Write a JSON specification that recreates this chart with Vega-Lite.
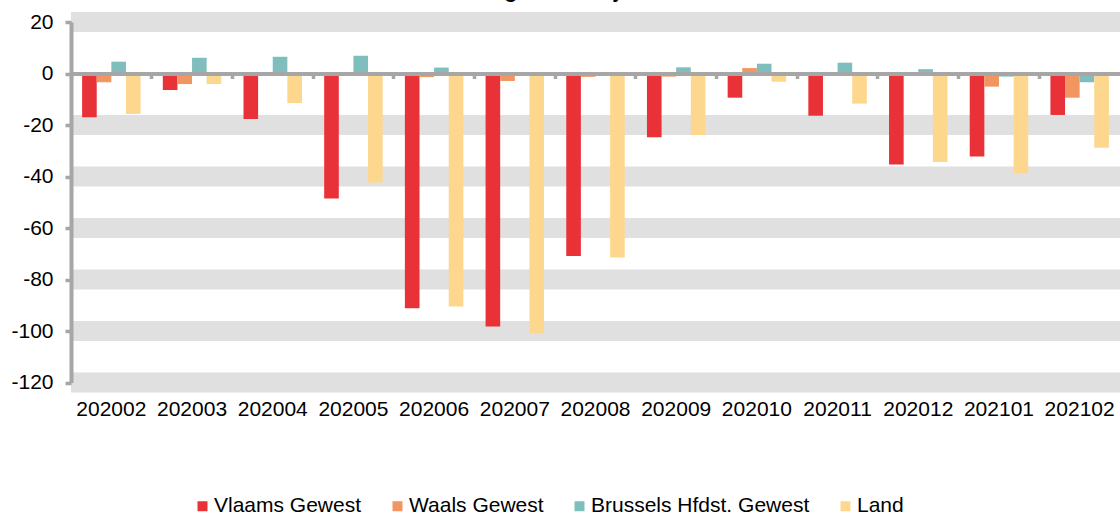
{
  "$schema": "https://vega.github.io/schema/vega-lite/v6.json",
  "width": 1049,
  "height": 360.5,
  "autosize": {"type": "none"},
  "padding": {"left": 71, "top": 22, "right": 0, "bottom": 132.5},
  "background": "white",
  "title": {"text": "Verandering t.o.v. het jaar ervoor", "anchor": "start", "frame": "group", "dx": 325, "baseline": "alphabetic", "offset": -7.5, "fontSize": 21, "font": "Liberation Sans", "fontWeight": "bold", "color": "black"},
  "config": {"view": {"stroke": null}, "font": "Liberation Sans"},
  "layer": [
    {
      "data": {"values": [{"value": 20}, {"value": -20}, {"value": -40}, {"value": -60}, {"value": -80}, {"value": -100}, {"value": -120}]},
      "mark": {"type": "rule", "color": "#E0E0E0", "strokeWidth": 20},
      "encoding": {
        "y": {"field": "value", "type": "quantitative", "scale": {"domain": [-120, 20], "nice": false, "zero": false},
          "axis": {"values": [20, 0, -20, -40, -60, -80, -100, -120], "labelExpr": "'' + datum.value", "title": null, "grid": false, "domainColor": "#A6A6A6", "domainWidth": 4, "tickColor": "#A6A6A6", "tickWidth": 3.5, "tickSize": 6, "labelFontSize": 21, "labelColor": "black", "labelPadding": 12, "labelFont": "Liberation Sans", "zindex": 1}}
      }
    },
    {
      "data": {"values": [
        {"month": "202002", "region": "Vlaams Gewest", "value": -17.0},
        {"month": "202002", "region": "Waals Gewest", "value": -3.4},
        {"month": "202002", "region": "Brussels Hfdst. Gewest", "value": 4.6},
        {"month": "202002", "region": "Land", "value": -15.7},
        {"month": "202003", "region": "Vlaams Gewest", "value": -6.4},
        {"month": "202003", "region": "Waals Gewest", "value": -4.1},
        {"month": "202003", "region": "Brussels Hfdst. Gewest", "value": 6.1},
        {"month": "202003", "region": "Land", "value": -4.1},
        {"month": "202004", "region": "Vlaams Gewest", "value": -17.7},
        {"month": "202004", "region": "Waals Gewest", "value": -0.3},
        {"month": "202004", "region": "Brussels Hfdst. Gewest", "value": 6.5},
        {"month": "202004", "region": "Land", "value": -11.5},
        {"month": "202005", "region": "Vlaams Gewest", "value": -48.5},
        {"month": "202005", "region": "Waals Gewest", "value": -0.5},
        {"month": "202005", "region": "Brussels Hfdst. Gewest", "value": 6.9},
        {"month": "202005", "region": "Land", "value": -42.3},
        {"month": "202006", "region": "Vlaams Gewest", "value": -91.2},
        {"month": "202006", "region": "Waals Gewest", "value": -1.4},
        {"month": "202006", "region": "Brussels Hfdst. Gewest", "value": 2.3},
        {"month": "202006", "region": "Land", "value": -90.5},
        {"month": "202007", "region": "Vlaams Gewest", "value": -98.3},
        {"month": "202007", "region": "Waals Gewest", "value": -2.9},
        {"month": "202007", "region": "Brussels Hfdst. Gewest", "value": 0.3},
        {"month": "202007", "region": "Land", "value": -100.9},
        {"month": "202008", "region": "Vlaams Gewest", "value": -70.9},
        {"month": "202008", "region": "Waals Gewest", "value": -1.3},
        {"month": "202008", "region": "Brussels Hfdst. Gewest", "value": 0.2},
        {"month": "202008", "region": "Land", "value": -71.5},
        {"month": "202009", "region": "Vlaams Gewest", "value": -24.8},
        {"month": "202009", "region": "Waals Gewest", "value": -1.2},
        {"month": "202009", "region": "Brussels Hfdst. Gewest", "value": 2.4},
        {"month": "202009", "region": "Land", "value": -23.9},
        {"month": "202010", "region": "Vlaams Gewest", "value": -9.4},
        {"month": "202010", "region": "Waals Gewest", "value": 2.1},
        {"month": "202010", "region": "Brussels Hfdst. Gewest", "value": 3.8},
        {"month": "202010", "region": "Land", "value": -3.2},
        {"month": "202011", "region": "Vlaams Gewest", "value": -16.4},
        {"month": "202011", "region": "Waals Gewest", "value": 0.1},
        {"month": "202011", "region": "Brussels Hfdst. Gewest", "value": 4.2},
        {"month": "202011", "region": "Land", "value": -11.7},
        {"month": "202012", "region": "Vlaams Gewest", "value": -35.3},
        {"month": "202012", "region": "Waals Gewest", "value": -0.6},
        {"month": "202012", "region": "Brussels Hfdst. Gewest", "value": 1.7},
        {"month": "202012", "region": "Land", "value": -34.4},
        {"month": "202101", "region": "Vlaams Gewest", "value": -32.2},
        {"month": "202101", "region": "Waals Gewest", "value": -5.1},
        {"month": "202101", "region": "Brussels Hfdst. Gewest", "value": -1.2},
        {"month": "202101", "region": "Land", "value": -38.6},
        {"month": "202102", "region": "Vlaams Gewest", "value": -16.1},
        {"month": "202102", "region": "Waals Gewest", "value": -9.4},
        {"month": "202102", "region": "Brussels Hfdst. Gewest", "value": -3.4},
        {"month": "202102", "region": "Land", "value": -28.8}
      ]},
      "mark": {"type": "bar"},
      "encoding": {
        "x": {"field": "month", "type": "nominal", "sort": null, "scale": {"paddingInner": 0, "paddingOuter": 0},
          "axis": {"title": null, "orient": "bottom", "offset": -309, "bandPosition": 0, "domainColor": "#A6A6A6", "domainWidth": 4, "tickColor": "#A6A6A6", "tickWidth": 3.5, "tickSize": 5, "labelFontSize": 21, "labelFont": "Liberation Sans", "labelColor": "black", "labelPadding": 320, "labelAngle": 0, "labelBound": false, "zindex": 1}},
        "xOffset": {"field": "region", "type": "nominal", "sort": ["Vlaams Gewest", "Waals Gewest", "Brussels Hfdst. Gewest", "Land"], "scale": {"paddingInner": 0, "paddingOuter": 0.76}},
        "y": {"field": "value", "type": "quantitative", "scale": {"domain": [-120, 20], "nice": false, "zero": false},
          "axis": {"values": [20, 0, -20, -40, -60, -80, -100, -120], "labelExpr": "'' + datum.value", "title": null, "grid": false, "domainColor": "#A6A6A6", "domainWidth": 4, "tickColor": "#A6A6A6", "tickWidth": 3.5, "tickSize": 6, "labelFontSize": 21, "labelColor": "black", "labelPadding": 12, "labelFont": "Liberation Sans", "zindex": 1}},
        "color": {"field": "region", "type": "nominal",
          "scale": {"domain": ["Vlaams Gewest", "Waals Gewest", "Brussels Hfdst. Gewest", "Land"], "range": ["#E93138", "#F19660", "#80BEBE", "#FED78F"]},
          "legend": {"orient": "none", "legendX": 121, "legendY": 473.5, "direction": "horizontal", "title": null, "symbolType": "square", "symbolSize": 100, "symbolStrokeWidth": 0, "labelFontSize": 21, "labelFont": "Liberation Sans", "labelColor": "black", "labelOffset": 1, "columnPadding": 25, "padding": 0, "labelLimit": 400}}
      }
    }
  ]
}
